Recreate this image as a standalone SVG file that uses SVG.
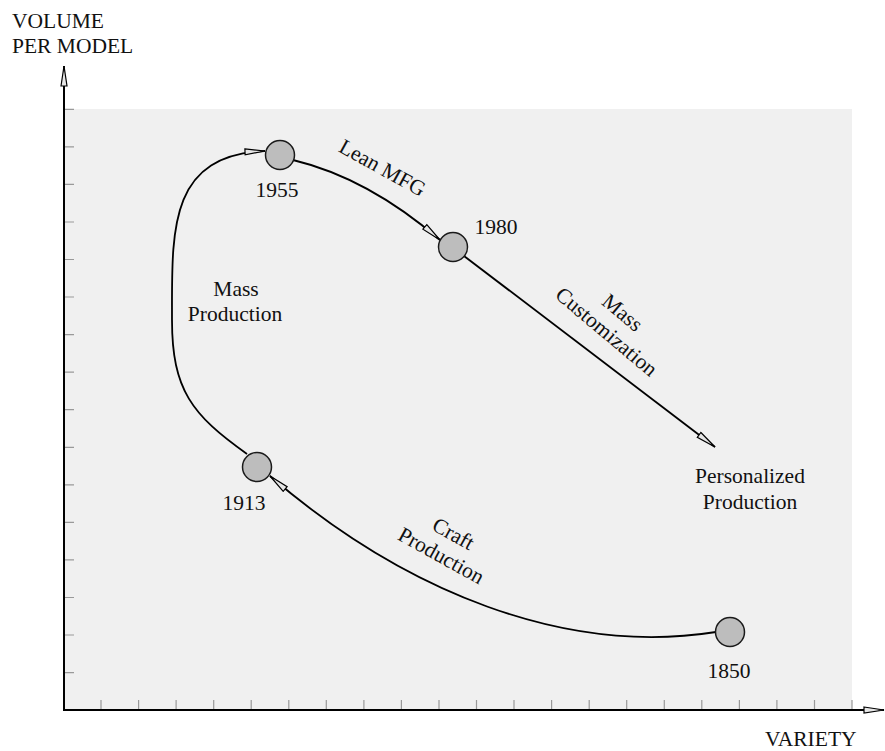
<svg xmlns="http://www.w3.org/2000/svg" width="885" height="751" viewBox="0 0 885 751">
<defs>
<style>
text{font-family:"Liberation Serif","Times New Roman",serif;font-size:21.5px;fill:#111;}
.node circle{fill:#bdbdbd;stroke:#1a1a1a;stroke-width:1.5;}
.conn{fill:none;stroke:#000;stroke-width:1.8;marker-end:url(#arr);}
.axis{fill:none;stroke:#000;stroke-width:2;marker-end:url(#arr);}
.tick{stroke:#999;stroke-width:1.2;}
.m{text-anchor:middle;}
</style>
<marker id="arr" markerUnits="userSpaceOnUse" markerWidth="24" markerHeight="10" refX="21" refY="4" orient="auto" viewBox="0 0 24 10">
<path d="M1,1 L21,4 L1,7 Z" fill="#e6e6e6" stroke="#000" stroke-width="1.2" stroke-linejoin="miter"/>
</marker>
</defs>
<rect x="64" y="109" width="788" height="601" fill="#f0f0f0"/>
<g id="ticks">
<path class="tick" d="M64,109.3h10M64,146.9h10M64,184.4h10M64,222h10M64,259.5h10M64,297h10M64,334.6h10M64,372.2h10M64,409.7h10M64,447.3h10M64,484.8h10M64,522.4h10M64,559.9h10M64,597.5h10M64,635h10M64,672.6h10"/>
<path class="tick" d="M101,700v10M138.6,700v10M176.1,700v10M213.7,700v10M251.2,700v10M288.8,700v10M326.3,700v10M363.9,700v10M401.4,700v10M439,700v10M476.5,700v10M514,700v10M551.6,700v10M589.2,700v10M626.7,700v10M664.3,700v10M701.8,700v10M739.4,700v10M776.9,700v10M814.5,700v10M852,700v10"/>
</g>
<g id="axes">
<path class="axis" d="M64,711 V66"/>
<path class="axis" d="M63,710 H884"/>
<text x="12" y="28">VOLUME</text>
<text x="12" y="53">PER MODEL</text>
<text x="765" y="746">VARIETY</text>
</g>
<g id="connectors">
<path id="craft" class="conn" d="M716,632 C565,656 405,592 270,476"/>
<path id="mass" class="conn" d="M247,454 C192,415 172,390 172,320 C172,230 168,155 265,151"/>
<path id="lean" class="conn" d="M293,160 Q368,178 440,240"/>
<path id="custom" class="conn" d="M464,256 L715,447"/>
</g>
<g id="labels">
<g class="m"><text class="m" x="236" y="296">Mass</text><text class="m" x="235" y="321">Production</text></g>
<text class="m" transform="translate(379,174) rotate(29)">Lean MFG</text>
<g transform="translate(618,318) rotate(40)"><text class="m" x="0" y="0">Mass</text><text class="m" x="0" y="25">Customization</text></g>
<g transform="translate(450,540) rotate(29)"><text class="m" x="0" y="0">Craft</text><text class="m" x="0" y="25">Production</text></g>
</g>
<g id="personalized" class="node"><text class="m" x="750" y="483">Personalized</text><text class="m" x="750" y="509">Production</text></g>
<g id="n1850" class="node"><circle cx="730" cy="632" r="14.5"/><text class="m" x="729" y="678">1850</text></g>
<g id="n1913" class="node"><circle cx="257" cy="467" r="14.5"/><text class="m" x="244" y="510">1913</text></g>
<g id="n1955" class="node"><circle cx="280" cy="155" r="14.5"/><text class="m" x="277" y="197">1955</text></g>
<g id="n1980" class="node"><circle cx="453" cy="247" r="14.5"/><text class="m" x="496" y="234">1980</text></g>
</svg>
